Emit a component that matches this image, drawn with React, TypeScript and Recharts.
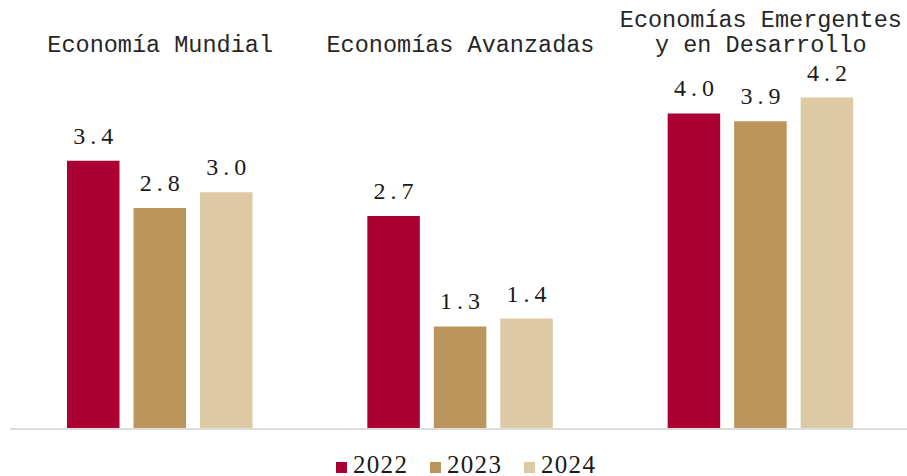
import React from 'react';
import { BarChart, Bar, XAxis, YAxis, Legend, LabelList } from 'recharts';

const categories = ['Economía Mundial', 'Economías Avanzadas', 'Economías Emergentes\ny en Desarrollo'];
const values2022 = [3.4, 2.7, 4.0];
const values2023 = [2.8, 1.3, 3.9];
const values2024 = [3.0, 1.4, 4.2];
const seriesNames = ['2022', '2023', '2024'];
const seriesColors = ['#AB0033', '#BC955C', '#DDC9A3'];

const data = categories.map((name, i) => ({
  name,
  y2022: values2022[i],
  y2023: values2023[i],
  y2024: values2024[i],
}));

const LS = 5;

const ValueLabel = (props: any) => {
  const { x, y, width, value } = props;
  return (
    <text
      x={x + width / 2 + LS / 2}
      y={y - 17}
      textAnchor="middle"
      fontFamily="'Liberation Serif', 'Times New Roman', serif"
      fontSize={24}
      letterSpacing={LS}
      fill="#1a1a1a"
    >
      {Number(value).toFixed(1)}
    </text>
  );
};

const TopTick = (props: any) => {
  const { x, payload } = props;
  const lines = String(payload.value).split('\n');
  const lastBaseline = 51.5;
  const lh = 25;
  return (
    <g>
      {lines.map((ln, i) => (
        <text
          key={i}
          x={x}
          y={lastBaseline - (lines.length - 1 - i) * lh}
          textAnchor="middle"
          fontFamily="'Liberation Mono', 'Courier New', monospace"
          fontSize={23.5}
          fill="#262626"
        >
          {ln}
        </text>
      ))}
    </g>
  );
};

const LegendContent = (props: any) => {
  const { payload } = props;
  return (
    <div style={{ display: 'flex', fontFamily: "'Liberation Serif', 'Times New Roman', serif", fontSize: 25, lineHeight: '28px', color: '#1a1a1a', letterSpacing: 1.3 }}>
      {(payload || []).map((p: any, i: number) => (
        <div key={i} style={{ marginRight: 21.8, whiteSpace: 'nowrap' }}>
          <span style={{ display: 'inline-block', width: 11, height: 11, background: p.color, marginRight: 6, verticalAlign: 'baseline' }} />
          {p.value}
        </div>
      ))}
    </div>
  );
};

export default function App() {
  return (
    <div style={{ position: 'absolute', left: 0, top: 0, width: 907, height: 476, overflow: 'hidden', background: '#fff' }}>
      <BarChart
        width={911}
        height={476}
        data={data}
        margin={{ top: 0, right: 0, left: 10, bottom: 46 }}
        barSize={52.5}
        barGap={14}
      >
        <XAxis
          xAxisId="top"
          dataKey="name"
          orientation="top"
          height={34.5}
          axisLine={false}
          tickLine={false}
          tick={<TopTick />}
          interval={0}
        />
        <XAxis
          xAxisId="bottom"
          dataKey="name"
          orientation="bottom"
          height={1}
          tick={false}
          tickLine={false}
          axisLine={{ stroke: '#dcdcdc', strokeWidth: 2 }}
        />
        <YAxis hide domain={[0, 5]} />
        <Legend
          layout="horizontal"
          verticalAlign="middle"
          align="center"
          content={<LegendContent />}
          wrapperStyle={{ top: 450.5, left: 336, width: 420 }}
        />
        <Bar xAxisId="bottom" dataKey="y2022" name={seriesNames[0]} fill={seriesColors[0]} isAnimationActive={false}>
          <LabelList dataKey="y2022" content={<ValueLabel />} />
        </Bar>
        <Bar xAxisId="bottom" dataKey="y2023" name={seriesNames[1]} fill={seriesColors[1]} isAnimationActive={false}>
          <LabelList dataKey="y2023" content={<ValueLabel />} />
        </Bar>
        <Bar xAxisId="bottom" dataKey="y2024" name={seriesNames[2]} fill={seriesColors[2]} isAnimationActive={false}>
          <LabelList dataKey="y2024" content={<ValueLabel />} />
        </Bar>
      </BarChart>
    </div>
  );
}
